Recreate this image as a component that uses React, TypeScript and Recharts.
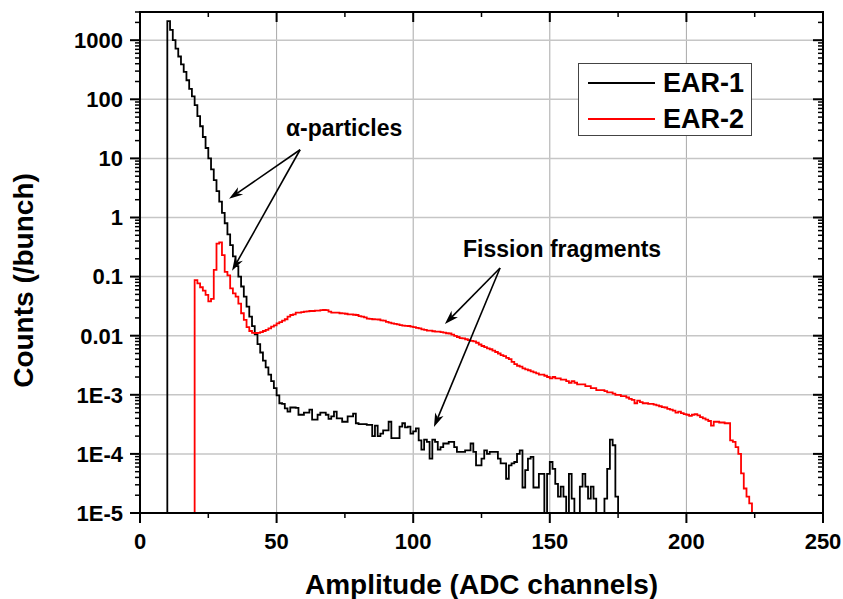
import React from "react";
import {
  LineChart,
  Line,
  XAxis,
  YAxis,
  CartesianGrid,
  ReferenceLine,
  ReferenceDot,
  Legend,
} from "recharts";

const FONT = "Arial, 'Liberation Sans', Helvetica, sans-serif";

// EAR-1 histogram: 1-channel bins starting at channel 10 (counts / bunch)
const ear1Start = 10;
const ear1Counts = [
  2100, 1500, 1000, 720, 530, 390, 290, 210, 150, 112,
  80, 52, 35, 23, 15, 10, 6.5, 4.3, 2.8, 1.85,
  1.2, 0.8, 0.52, 0.34, 0.22, 0.15, 0.1, 0.068, 0.046, 0.031,
  0.021, 0.0145, 0.0105, 0.0072, 0.0052, 0.0038, 0.0029, 0.0022, 0.0017, 0.0013,
  0.00098, 7.2e-4, 7.0e-4, 5.9e-4, 5.2e-4, 6.1e-4, 6.1e-4, 6.0e-4, 4.6e-4, 4.6e-4,
  5.0e-4, 5.0e-4, 5.6e-4, 3.8e-4, 3.8e-4, 4.6e-4, 5.0e-4, 5.0e-4, 4.6e-4, 3.9e-4,
  4.3e-4, 5.2e-4, 4.0e-4, 4.0e-4, 3.5e-4, 3.5e-4, 4.3e-4, 4.3e-4, 4.8e-4, 3.3e-4,
  3.2e-4, 3.2e-4, 3.2e-4, 3.1e-4, 3.1e-4, 2.0e-4, 3.0e-4, 2.0e-4, 2.2e-4, 2.5e-4,
  2.5e-4, 3.5e-4, 1.85e-4, 1.85e-4, 1.85e-4, 2.9e-4, 3.3e-4, 2.8e-4, 2.9e-4, 2.2e-4,
  2.4e-4, 2.7e-4, 1.7e-4, 1.18e-4, 1.75e-4, 1.6e-4, 8.3e-5, 1.75e-4, 1.6e-4, 1.18e-4,
  1.3e-4, 1.5e-4, 1.5e-4, 1.6e-4, 1.6e-4, 1.3e-4, 1.08e-4, 1.08e-4, 1.08e-4, 1.15e-4,
  1.15e-4, 1.5e-4, 1.08e-4, 6.4e-5, 6.4e-5, 8.3e-5, 1.15e-4, 1.0e-4, 1.08e-4, 1.08e-4,
  1.08e-4, 8.3e-5, 6.9e-5, 6.9e-5, 3.8e-5, 6.4e-5, 6.9e-5, 7.3e-5, 1.0e-4, 1.15e-4,
  2.7e-5, 5.3e-5, 8.3e-5, 8.9e-5, 2.7e-5, 2.7e-5, 4.6e-5, 4.6e-5, 1e-5, 4.6e-5,
  7.3e-5, 5.6e-5, 3.1e-5, 1.9e-5, 2.8e-5, 1.9e-5, 1e-5, 4.6e-5, 1.75e-5, 1e-5,
  1e-5, 2.8e-5, 4.6e-5, 2.8e-5, 1.75e-5, 2.8e-5, 1.75e-5, 1e-5, 1e-5, 1e-5,
  1.75e-5, 5.6e-5, 1.75e-4, 1.4e-4, 1.9e-5,
];

// EAR-2 histogram: 1-channel bins starting at channel 20
const ear2Start = 20;
const ear2Counts = [
  0.087, 0.077, 0.066, 0.058, 0.049, 0.038, 0.042, 0.13, 0.36, 0.38,
  0.23, 0.12, 0.105, 0.063, 0.052, 0.046, 0.035, 0.024, 0.0185, 0.014,
  0.012, 0.0112, 0.0111, 0.0112, 0.0115, 0.012, 0.0125, 0.0133, 0.0142, 0.015,
  0.0162, 0.017, 0.018, 0.019, 0.021, 0.0224, 0.023, 0.0245, 0.0245, 0.025,
  0.0255, 0.0258, 0.0262, 0.0262, 0.0265, 0.0265, 0.027, 0.0272, 0.027, 0.0255,
  0.0245, 0.0245, 0.0245, 0.024, 0.0239, 0.0235, 0.023, 0.023, 0.0226, 0.0224,
  0.0215, 0.021, 0.0205, 0.0195, 0.0192, 0.019, 0.0189, 0.0188, 0.0182, 0.018,
  0.0172, 0.0166, 0.0162, 0.0158, 0.0155, 0.0151, 0.0148, 0.0147, 0.0146, 0.0142,
  0.014, 0.0136, 0.0133, 0.0128, 0.0125, 0.0122, 0.0122, 0.0119, 0.0117, 0.0117,
  0.0115, 0.0113, 0.011, 0.0109, 0.0104, 0.0099, 0.0095, 0.0091, 0.009, 0.0087,
  0.0084, 0.0082, 0.008, 0.0076, 0.0071, 0.0067, 0.0064, 0.0061, 0.0059, 0.0056,
  0.0053, 0.005, 0.0047, 0.0045, 0.0042, 0.004, 0.0036, 0.0033, 0.0031, 0.003,
  0.0028, 0.0027, 0.0026, 0.0025, 0.0024, 0.0023, 0.0022, 0.0022, 0.0021, 0.002,
  0.0019, 0.002, 0.0019, 0.0019, 0.0018, 0.0018, 0.0017, 0.0016, 0.0017, 0.0016,
  0.0015, 0.0015, 0.0015, 0.0014, 0.0014, 0.0013, 0.0013, 0.0012, 0.0012, 0.0012,
  0.00115, 0.0011, 0.0011, 0.00105, 0.001, 0.001, 0.00095, 0.00095, 0.0009, 0.00085,
  0.00082, 0.00072, 0.0008, 0.00075, 0.00072, 0.00072, 0.0007, 0.0007, 0.00068, 0.00066,
  0.00064, 0.00062, 0.00061, 0.00058, 0.00056, 0.00054, 0.0005, 0.00052, 0.00049, 0.00047,
  0.00046, 0.00044, 0.00046, 0.00047, 0.00045, 0.00042, 0.0004, 0.00038, 0.00036, 0.0003,
  0.00035, 0.00035, 0.00034, 0.00034, 0.00033, 0.00033, 0.00017, 0.00016, 0.00013, 0.0001,
  4.7e-5, 2.6e-5, 1.9e-5, 1.45e-5,
];

const seriesNames = ["EAR-1", "EAR-2"];
const seriesColors = ["#000000", "#ff0000"];

const X_MAX = 250;
const xTicks = [0, 50, 100, 150, 200, 250];
const xMinorTicks = [25, 75, 125, 175, 225];
const yTicks = [1e-5, 1e-4, 1e-3, 0.01, 0.1, 1, 10, 100, 1000];
const yTickLabels = ["1E-5", "1E-4", "1E-3", "0.01", "0.1", "1", "10", "100", "1000"];

const Y_MIN = 1e-5;
const Y_MAX = 3000;
const yMinorTicks = yTicks
  .flatMap((d) => [2, 3, 4, 5, 6, 7, 8, 9].map((m) => d * m))
  .filter((v) => v <= Y_MAX);

const xAllTicks = [...xTicks, ...xMinorTicks].sort((a, b) => a - b);
const yAllTicks = [...yTicks, ...yMinorTicks].sort((a, b) => a - b);

// annotation arrows (data coords)
const arrows = [
  { from: { x: 58.6, y: 14 }, to: { x: 32.6, y: 2.07 } },
  { from: { x: 58.6, y: 14 }, to: { x: 33.7, y: 0.125 } },
  { from: { x: 131.8, y: 0.14 }, to: { x: 111.6, y: 0.0158 } },
  { from: { x: 131.8, y: 0.14 }, to: { x: 107.6, y: 2.84e-4 } },
];
const notes = [
  { x: 74.7, y: 33, text: "α-particles" },
  { x: 154.5, y: 0.295, text: "Fission fragments" },
];

// layout
const W = 843;
const H = 599;
const MARGIN = { top: 12, right: 20, bottom: 56, left: 60 };
const Y_AXIS_W = 80;
const X_AXIS_H = 30;
const PLOT_W = W - MARGIN.left - MARGIN.right - Y_AXIS_W;
const PLOT_H = H - MARGIN.top - MARGIN.bottom - X_AXIS_H;

const TICK = 10; // major tick length
const MINOR = 5;
const MARGIN_X = 10;
const MARGIN_Y = 7;

// histogram bins -> stepAfter points, closed down to the floor at both ends
function toSteps(start: number, counts: number[]) {
  const pts = [{ x: start - 1, y: Y_MIN }];
  counts.forEach((c, i) => pts.push({ x: start + i, y: c }));
  pts.push({ x: start + counts.length, y: Y_MIN });
  return pts;
}

function majorIndex(list: number[], v: number) {
  return list.findIndex((t) => Math.abs(t - v) / Math.max(Math.abs(t), 1e-12) < 1e-6);
}

// x tick: outward tick + label at the bottom, mirrored inward tick at the top edge
function HTick(p: any) {
  const { x, y, payload } = p;
  const major = majorIndex(xTicks, payload.value) >= 0;
  const len = major ? TICK : MINOR;
  const sw = major ? 2 : 1.5;
  const axisY = y - MARGIN_X - TICK;
  const topY = axisY - PLOT_H;
  return (
    <g>
      <line x1={x} y1={axisY} x2={x} y2={axisY + len} stroke="#000" strokeWidth={sw} />
      <line x1={x} y1={topY} x2={x} y2={topY + len} stroke="#000" strokeWidth={sw} />
      {major && (
        <text x={x} y={y} dy="0.71em" textAnchor="middle" fontFamily={FONT} fontWeight="bold" fontSize={22} fill="#000">
          {payload.value}
        </text>
      )}
    </g>
  );
}

// y tick: outward tick + label on the left, mirrored inward tick at the right edge
function VTick(p: any) {
  const { x, y, payload } = p;
  const i = majorIndex(yTicks, payload.value);
  const major = i >= 0;
  const len = major ? TICK : MINOR;
  const sw = major ? 2 : 1.5;
  const axisX = x + MARGIN_Y + TICK;
  const rightX = axisX + PLOT_W;
  return (
    <g>
      <line x1={axisX - len} y1={y} x2={axisX} y2={y} stroke="#000" strokeWidth={sw} />
      <line x1={rightX - len} y1={y} x2={rightX} y2={y} stroke="#000" strokeWidth={sw} />
      {major && (
        <text x={x} y={y} dy="0.355em" textAnchor="end" fontFamily={FONT} fontWeight="bold" fontSize={22} fill="#000">
          {yTickLabels[i]}
        </text>
      )}
    </g>
  );
}

function Arrow(p: any) {
  const { x1, y1, x2, y2 } = p;
  const a = Math.atan2(y2 - y1, x2 - x1);
  const c = Math.cos(a);
  const s = Math.sin(a);
  const bx = x2 - 14 * c;
  const by = y2 - 14 * s;
  const nx = x2 - 10 * c;
  const ny = y2 - 10 * s;
  const w = 4.5;
  return (
    <g>
      <line x1={x1} y1={y1} x2={nx} y2={ny} stroke="#000" strokeWidth={1.6} />
      <polygon
        points={`${x2},${y2} ${bx - s * w},${by + c * w} ${nx},${ny} ${bx + s * w},${by - c * w}`}
        fill="#000"
      />
    </g>
  );
}

function XTitle(props: any) {
  const vb = props.viewBox || {};
  return (
    <text x={vb.x + vb.width / 2} y={vb.y + 81} textAnchor="middle" fontFamily={FONT} fontWeight="bold" fontSize={28} fill="#000">
      Amplitude (ADC channels)
    </text>
  );
}

function YTitle(props: any) {
  const vb = props.viewBox || {};
  const x = 33;
  const y = vb.y + vb.height / 2 + 18;
  return (
    <text x={x} y={y} transform={`rotate(-90 ${x} ${y})`} textAnchor="middle" fontFamily={FONT} fontWeight="bold" fontSize={28} fill="#000">
      Counts (/bunch)
    </text>
  );
}

function LegendBox(props: any) {
  const payload = props.payload || [];
  return (
    <div
      style={{
        width: 172,
        height: 71,
        border: "1.5px solid #444",
        background: "#fff",
        position: "relative",
        fontFamily: FONT,
      }}
    >
      {payload.map((p: any, i: number) => (
        <div key={p.value} style={{ position: "absolute", left: 9, top: 19 + i * 36 - 14, height: 28, display: "flex", alignItems: "center" }}>
          <div style={{ width: 67, height: 2, background: p.color }} />
          <span style={{ marginLeft: 8, fontSize: 27, fontWeight: "bold", color: "#000", lineHeight: "28px" }}>{p.value}</span>
        </div>
      ))}
    </div>
  );
}

const axisLineStyle = { stroke: "#000", strokeWidth: 2 };

export default function App() {
  const data = [toSteps(ear1Start, ear1Counts), toSteps(ear2Start, ear2Counts)];
  return (
    <div style={{ position: "absolute", left: 0, top: 0, width: W, height: H, background: "#fff" }}>
      <LineChart width={W} height={H} margin={MARGIN}>
        <CartesianGrid horizontal={false} verticalValues={xTicks} stroke="#a8a8a8" strokeWidth={1} />
        <CartesianGrid vertical={false} horizontalValues={yTicks} stroke="#c6c6c6" strokeWidth={1.5} />

        <XAxis
          dataKey="x"
          type="number"
          domain={[0, X_MAX]}
          allowDataOverflow
          ticks={xAllTicks}
          interval={0}
          height={X_AXIS_H}
          tickSize={TICK}
          tickMargin={MARGIN_X}
          axisLine={axisLineStyle}
          tickLine={false}
          tick={HTick}
          label={{ content: XTitle }}
        />
        <YAxis
          type="number"
          scale="log"
          domain={[Y_MIN, Y_MAX]}
          allowDataOverflow
          ticks={yAllTicks}
          interval={0}
          width={Y_AXIS_W}
          tickSize={TICK}
          tickMargin={MARGIN_Y}
          axisLine={axisLineStyle}
          tickLine={false}
          tick={VTick}
          label={{ content: YTitle }}
        />

        {data.map((d, i) => (
          <Line
            key={seriesNames[i]}
            data={d}
            dataKey="y"
            name={seriesNames[i]}
            type="stepAfter"
            stroke={seriesColors[i]}
            strokeWidth={1.8}
            dot={false}
            activeDot={false}
            legendType="line"
            isAnimationActive={false}
          />
        ))}

        {arrows.map((a, i) => (
          <ReferenceLine key={i} segment={[a.from, a.to]} shape={Arrow} />
        ))}
        {notes.map((n) => (
          <ReferenceDot
            key={n.text}
            x={n.x}
            y={n.y}
            r={0}
            shape={(p: any) => (
              <text x={p.cx} y={p.cy} textAnchor="middle" dominantBaseline="central" fontFamily={FONT} fontWeight="bold" fontSize={23} fill="#000">
                {n.text}
              </text>
            )}
          />
        ))}

        <Legend
          layout="horizontal"
          verticalAlign="middle"
          align="center"
          wrapperStyle={{ left: 578, top: 63, width: 175, height: 74 }}
          content={LegendBox}
        />
      </LineChart>
      {/* top and right edges of the plot frame */}
      <div
        style={{
          position: "absolute",
          left: MARGIN.left + Y_AXIS_W - 1,
          top: MARGIN.top - 1,
          width: PLOT_W + 2,
          height: PLOT_H + 2,
          boxSizing: "border-box",
          borderTop: "2px solid #000",
          borderRight: "2px solid #000",
          pointerEvents: "none",
        }}
      />
    </div>
  );
}
